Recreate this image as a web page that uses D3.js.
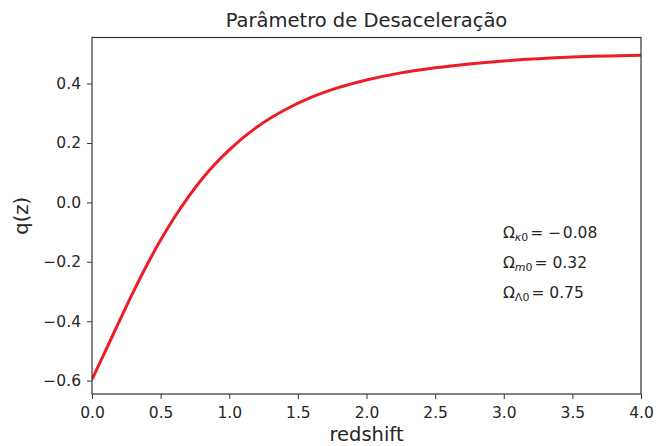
<!DOCTYPE html>
<html>
<head>
<meta charset="utf-8">
<script src="https://cdn.jsdelivr.net/npm/d3@7"></script>
<style>
  body { margin: 0; background: #fff; }
  text { font-family: "DejaVu Sans", sans-serif; fill: #262626; }
</style>
</head>
<body>
<svg id="chart" width="664" height="446"></svg>
<script>
const redshift = [0, 0.1, 0.2, 0.3, 0.4, 0.5, 0.6, 0.7, 0.8, 0.9, 1.0, 1.2, 1.4, 1.6, 1.8, 2.0, 2.25, 2.5, 2.75, 3.0, 3.5, 4.0];
const qValues = [-0.596, -0.498, -0.399, -0.302, -0.211, -0.127, -0.051, 0.017, 0.078, 0.131, 0.177, 0.253, 0.310, 0.354, 0.387, 0.412, 0.436, 0.453, 0.466, 0.476, 0.489, 0.495];
const xTicks = [0, 0.5, 1, 1.5, 2, 2.5, 3, 3.5, 4];
const yTicks = [-0.6, -0.4, -0.2, 0, 0.2, 0.4];
const params = [
  {sub: "κ", val: " −\u200a0.08"},
  {sub: "m", val: "0.32"},
  {sub: "Λ", val: "0.75"}
];

const svg = d3.select("#chart");
const m = {left: 92, right: 641, top: 37.5, bottom: 394};

const x = d3.scaleLinear().domain([0, 4]).range([m.left, m.right]);
const y = d3.scaleLinear().domain([-0.645, 0.555]).range([m.bottom, m.top]);

const fmt = d => d3.format(".1f")(d).replace("-", "−");

const xAxis = svg.append("g")
  .attr("transform", `translate(0,${m.bottom})`)
  .call(d3.axisBottom(x).tickValues(xTicks).tickFormat(fmt).tickSize(5).tickPadding(5));
const yAxis = svg.append("g")
  .attr("transform", `translate(${m.left},0)`)
  .call(d3.axisLeft(y).tickValues(yTicks).tickFormat(fmt).tickSize(5).tickPadding(6));

[xAxis, yAxis].forEach(g => {
  g.select(".domain").remove();
  g.selectAll(".tick line").attr("stroke", "#333").attr("stroke-width", 1);
  g.selectAll(".tick text").attr("font-size", 15.5).attr("fill", "#262626");
});
xAxis.selectAll(".tick text").attr("dy", "0.9em");

svg.append("clipPath").attr("id", "clip")
  .append("rect").attr("x", m.left).attr("y", m.top)
  .attr("width", m.right - m.left).attr("height", m.bottom - m.top);

const line = d3.line()
  .x((d, i) => x(redshift[i]))
  .y(d => y(d))
  .curve(d3.curveMonotoneX);

svg.append("path")
  .datum(qValues)
  .attr("clip-path", "url(#clip)")
  .attr("fill", "none")
  .attr("stroke", "#ee1c24")
  .attr("stroke-width", 3)
  .attr("d", line);

// frame
svg.append("rect")
  .attr("x", m.left).attr("y", m.top)
  .attr("width", m.right - m.left).attr("height", m.bottom - m.top)
  .attr("fill", "none").attr("stroke", "#333").attr("stroke-width", 1.2);

svg.append("text")
  .attr("x", (m.left + m.right) / 2).attr("y", 27)
  .attr("text-anchor", "middle").attr("font-size", 19.5)
  .text("Parâmetro de Desaceleração");

svg.append("text")
  .attr("x", (m.left + m.right) / 2).attr("y", 441)
  .attr("text-anchor", "middle").attr("font-size", 19.5)
  .text("redshift");

svg.append("text")
  .attr("transform", `translate(28,${(m.top + m.bottom) / 2}) rotate(-90)`)
  .attr("text-anchor", "middle").attr("font-size", 19.5)
  .text("q(z)");

const ann = svg.append("g").selectAll("text").data(params).join("text")
  .attr("x", 503)
  .attr("y", (d, i) => 238 + i * 30)
  .attr("font-size", 15.5);
ann.append("tspan").text("Ω");
ann.append("tspan").attr("font-size", 11).attr("dy", 3)
  .attr("font-style", d => d.sub === "Λ" ? "normal" : "italic").text(d => d.sub);
ann.append("tspan").attr("font-size", 11).text("0");
ann.append("tspan").attr("dy", -3).attr("dx", 2).text(d => "= " + d.val);
</script>
</body>
</html>
